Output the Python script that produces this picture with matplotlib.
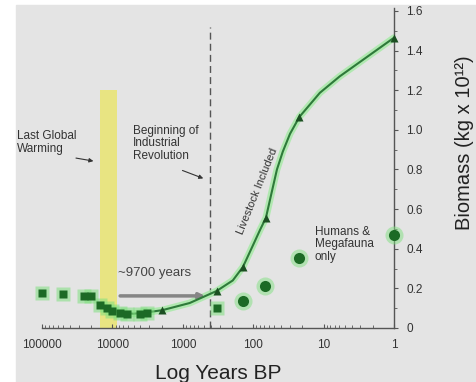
import matplotlib.pyplot as plt
from matplotlib.patches import Rectangle
from matplotlib.ticker import FixedLocator, FixedFormatter, NullFormatter

plt.rcParams['font.family'] = ['Liberation Sans', 'DejaVu Sans']

# squares: total biomass estimates (years BP, kg x 10^12)
sq_years = [100000, 51000, 25700, 20400, 15200, 12000, 10000, 7900, 6200, 4100, 3200, 330]
sq_biomass = [0.177, 0.172, 0.162, 0.162, 0.116, 0.10, 0.086, 0.076, 0.071, 0.071, 0.076, 0.10]

# triangles: livestock included
tri_years = [1950, 330, 140, 66, 22, 1]
tri_biomass = [0.09, 0.187, 0.308, 0.556, 1.066, 1.465]

# circles: humans & megafauna only
circ_years = [140, 68, 22, 1]
circ_biomass = [0.136, 0.212, 0.354, 0.47]

# fitted curve
curve_years = [12000, 8000, 5000, 2950, 1950, 800, 330, 195, 140, 100, 80, 66, 55, 46, 38, 30,
               22, 11.3, 5.9, 1]
curve_biomass = [0.10, 0.078, 0.072, 0.081, 0.09, 0.126, 0.187, 0.24, 0.308, 0.42, 0.495, 0.556,
                 0.68, 0.80, 0.89, 0.98, 1.066, 1.187, 1.27, 1.465]

xticks = [100000, 10000, 1000, 100, 10, 1]
xlabels = ['100000', '10000', '1000', '100', '10', '1']
yticks = [0, 0.2, 0.4, 0.6, 0.8, 1.0, 1.2, 1.4, 1.6]
ylabels = ['0', '0.2', '0.4', '0.6', '0.8', '1.0', '1.2', '1.4', '1.6']

dark = '#1c6a25'
glow = '#7fe07f'
txt = '#333333'

fig = plt.figure(figsize=(4.77, 3.82), dpi=100)
fig.patches.append(Rectangle((16 / 477, 0), 1, 377 / 382, transform=fig.transFigure,
                             color='#e4e4e4', zorder=-10))
ax = fig.add_axes([42 / 477, 54 / 382, 352 / 477, 320 / 382])
ax.set_facecolor('none')
ax.set_xscale('log')
ax.set_xlim(1e5, 1)
ax.set_ylim(0, 1.615)

# last global warming band and industrial revolution line
ax.fill_between([15200, 8500], 0, 1.2, color='#e8e482', lw=0, zorder=1)
ax.plot([415, 415], [0, 1.52], color='#555555', lw=1, ls=(0, (5, 3)), zorder=1)

# ~9700 years arrow
ax.annotate('', xy=(440, 0.162), xytext=(8500, 0.162),
            arrowprops=dict(arrowstyle='-|>', color='#858585', lw=2.5, mutation_scale=8))
ax.text(8300, 0.278, '~9700 years', fontsize=9.5, color='#444444', ha='left', va='center')

# curve with glow
ax.plot(curve_years, curve_biomass, color='#a4eaa4', lw=5, alpha=0.8, solid_capstyle='round', zorder=2)
ax.plot(curve_years, curve_biomass, color='#2e7a3a', lw=1.5, zorder=3)

ax.plot(sq_years, sq_biomass, 's', ms=10, color=glow, alpha=0.55, mec='none', clip_on=False, zorder=3)
ax.plot(sq_years, sq_biomass, 's', ms=6, color=dark, mec='none', clip_on=False, zorder=4)
ax.plot(tri_years, tri_biomass, '^', ms=5.5, color='#1b4f22', mec='none', clip_on=False, zorder=4)
ax.plot(circ_years, circ_biomass, 'o', ms=13, color=glow, alpha=0.5, mec='none', clip_on=False, zorder=3)
ax.plot(circ_years, circ_biomass, 'o', ms=8, color=dark, mec='none', clip_on=False, zorder=4)

# annotations
ax.text(-0.071, 0.618, 'Last Global\nWarming', transform=ax.transAxes, fontsize=8.5,
        color=txt, ha='left', va='top', linespacing=1.05)
ax.annotate('', xy=(17000, 0.84), xytext=(36000, 0.86),
            arrowprops=dict(arrowstyle='-|>', color=txt, lw=0.8, mutation_scale=6))
ax.text(5130, 1.025, 'Beginning of\nIndustrial\nRevolution', fontsize=8.5, color=txt,
        ha='left', va='top', linespacing=1.05)
ax.annotate('', xy=(470, 0.75), xytext=(1100, 0.80),
            arrowprops=dict(arrowstyle='-|>', color=txt, lw=0.8, mutation_scale=6))
ax.text(88, 0.69, 'Livestock Included', fontsize=8, color=txt, rotation=68,
        ha='center', va='center')
ax.text(13.3, 0.515, 'Humans &\nMegafauna\nonly', fontsize=8.5, color=txt,
        ha='left', va='top', linespacing=1.05)

# axes styling
for side in ['left', 'top']:
    ax.spines[side].set_visible(False)
for side in ['right', 'bottom']:
    ax.spines[side].set_color('#555555')
    ax.spines[side].set_linewidth(1)

ax.xaxis.set_major_locator(FixedLocator(xticks))
ax.xaxis.set_major_formatter(FixedFormatter(xlabels))
ax.xaxis.set_minor_formatter(NullFormatter())
ax.tick_params(axis='x', which='major', direction='in', length=3, pad=8, labelsize=8.5,
               colors='#555555', labelcolor=txt)
ax.tick_params(axis='x', which='minor', direction='in', length=2, colors='#555555')

ax.yaxis.tick_right()
ax.yaxis.set_label_position('right')
ax.yaxis.set_major_locator(FixedLocator(yticks))
ax.yaxis.set_major_formatter(FixedFormatter(ylabels))
ax.yaxis.set_minor_locator(FixedLocator([0.1, 0.3, 0.5, 0.7, 0.9, 1.1, 1.3, 1.5]))
ax.tick_params(axis='y', which='major', direction='out', length=3, pad=6, labelsize=8.5,
               colors='#555555', labelcolor=txt)
ax.tick_params(axis='y', which='minor', direction='out', length=2, colors='#555555')

ax.set_xlabel('Log Years BP', fontsize=15, color='#222222', labelpad=9)
ax.set_ylabel('Biomass (kg x 10¹²)', fontsize=14.5, color='#222222', rotation=90)
ax.yaxis.set_label_coords(1.172, 0.58)

fig.savefig('out.png', dpi=100)
